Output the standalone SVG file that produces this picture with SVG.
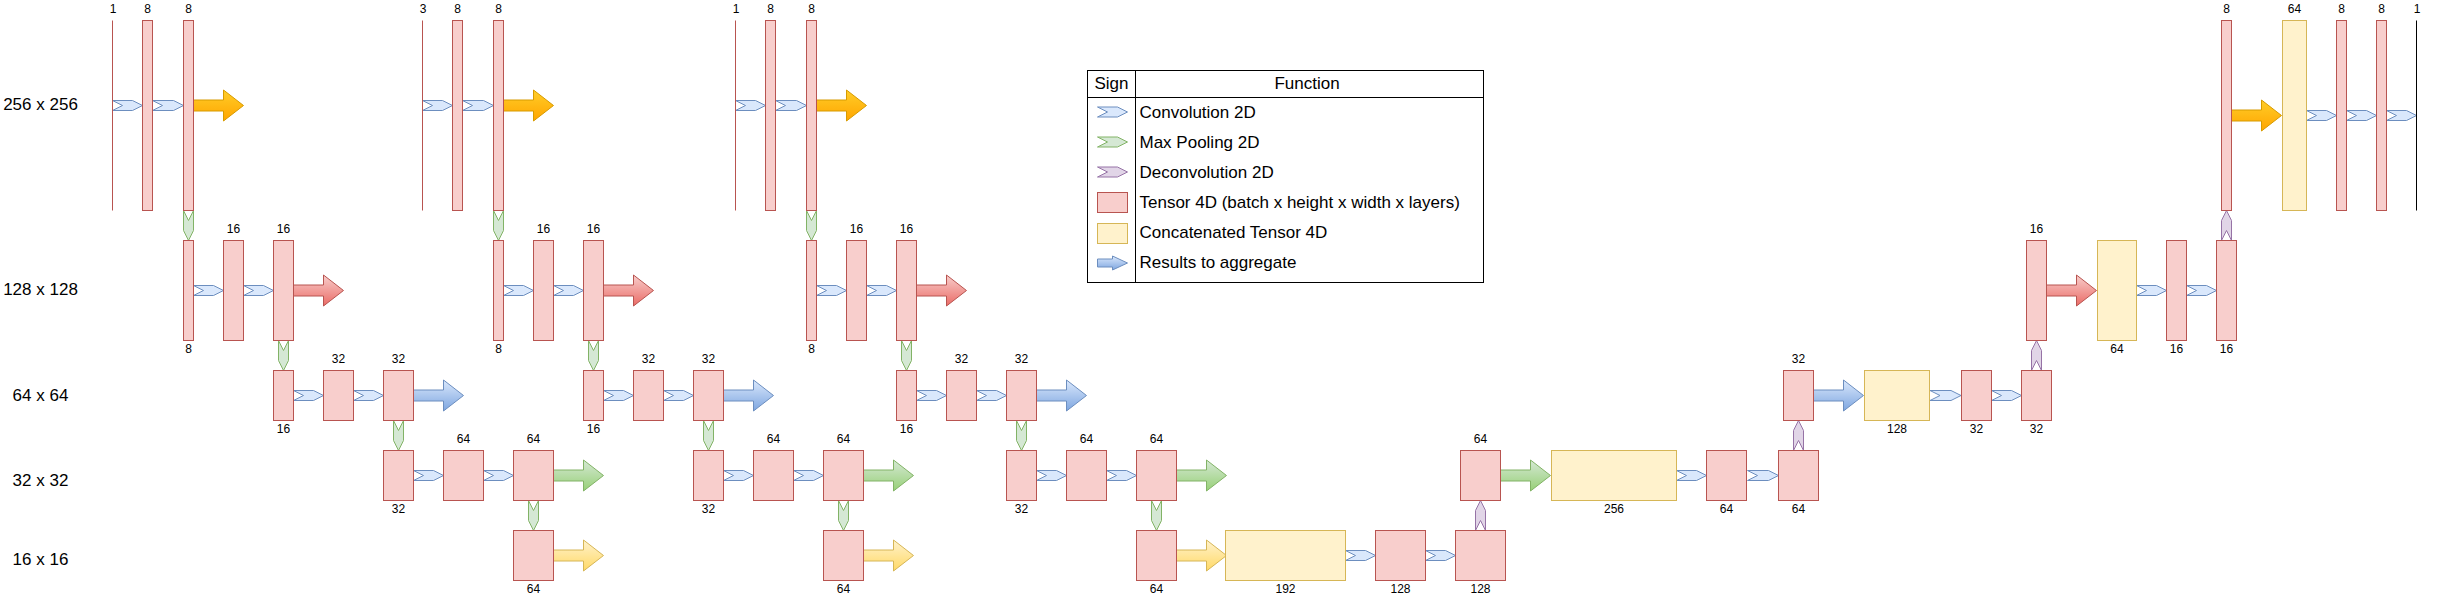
<svg xmlns="http://www.w3.org/2000/svg" xmlns:xlink="http://www.w3.org/1999/xlink" width="2437" height="602" viewBox="0 0 2437 602">
<style>
text{font-family:"Liberation Sans",Arial,sans-serif;fill:#000}
.n{font-size:12px;text-anchor:middle}
.row{font-size:17px;text-anchor:middle}
.lg{font-size:17px}
.t{fill:#f8cecc;stroke:#b85450;stroke-width:1}
.c{fill:#fff2cc;stroke:#d6b656;stroke-width:1}
.in{stroke:#b85450;stroke-width:1}
.out{stroke:#000;stroke-width:1}
.conv{fill:#dae8fc;stroke:#6c8ebf;stroke-width:1}
.pool{fill:#d5e8d4;stroke:#82b366;stroke-width:1}
.dec{fill:#e1d5e7;stroke:#9673a6;stroke-width:1}
.ao{fill:url(#gO);stroke:#d79b00;stroke-width:1}
.ar{fill:url(#gR);stroke:#b85450;stroke-width:1}
.ab{fill:url(#gB);stroke:#6c8ebf;stroke-width:1}
.ag{fill:url(#gG);stroke:#82b366;stroke-width:1}
.ay{fill:url(#gY);stroke:#d6b656;stroke-width:1}
.frame{fill:#fff;stroke:#000;stroke-width:1}
</style>
<defs>
<linearGradient id="gO" x1="0" y1="0" x2="0" y2="1"><stop offset="0" stop-color="#ffcd28"/><stop offset="1" stop-color="#ffa500"/></linearGradient>
<linearGradient id="gR" x1="0" y1="0" x2="0" y2="1"><stop offset="0" stop-color="#f8cecc"/><stop offset="1" stop-color="#ea6b66"/></linearGradient>
<linearGradient id="gB" x1="0" y1="0" x2="0" y2="1"><stop offset="0" stop-color="#dae8fc"/><stop offset="1" stop-color="#7ea6e0"/></linearGradient>
<linearGradient id="gG" x1="0" y1="0" x2="0" y2="1"><stop offset="0" stop-color="#d5e8d4"/><stop offset="1" stop-color="#97d077"/></linearGradient>
<linearGradient id="gY" x1="0" y1="0" x2="0" y2="1"><stop offset="0" stop-color="#fff2cc"/><stop offset="1" stop-color="#ffd966"/></linearGradient>
<path id="cv" d="M0,-5 H20 L30,0 L20,5 H0 L10,0 Z"/>
<path id="cv2" d="M0,-5 H21 L31,0 L21,5 H0 L10,0 Z"/>
<path id="pl" d="M-5,0 L0,10 L5,0 V20 L0,30 L-5,20 Z"/>
<path id="dc" d="M-5,0 V-20 L0,-30 L5,-20 V0 L0,-10 Z"/>
<path id="big" d="M0,-5.5 H30 V-15.5 L50,0 L30,15.5 V5.5 H0 Z"/>
<path id="sm" d="M0,-4 H15 V-7 L30,0 L15,7 V4 H0 Z"/>
</defs>
<rect x="0" y="0" width="2437" height="602" fill="#fff"/>

<g id="row-labels">
<text class="row" x="40.5" y="110">256 x 256</text>
<text class="row" x="40.5" y="295">128 x 128</text>
<text class="row" x="40.5" y="401">64 x 64</text>
<text class="row" x="40.5" y="486">32 x 32</text>
<text class="row" x="40.5" y="565">16 x 16</text>
</g>

<g id="connectors">
<g id="conn-b1" transform="translate(0,0)">
<use href="#cv" class="conv" x="112.5" y="105.5"/><use href="#cv2" class="conv" x="152.5" y="105.5"/>
<use href="#big" class="ao" x="193.5" y="105.5"/>
<use href="#pl" class="pool" x="188.5" y="210.5"/>
<use href="#cv" class="conv" x="193.5" y="290.5"/><use href="#cv" class="conv" x="243.5" y="290.5"/>
<use href="#big" class="ar" x="293.5" y="290.5"/>
<use href="#pl" class="pool" x="283.5" y="340.5"/>
<use href="#cv" class="conv" x="293.5" y="395.5"/><use href="#cv" class="conv" x="353.5" y="395.5"/>
<use href="#big" class="ab" x="413.5" y="395.5"/>
<use href="#pl" class="pool" x="398.5" y="420.5"/>
<use href="#cv" class="conv" x="413.5" y="475.5"/><use href="#cv" class="conv" x="483.5" y="475.5"/>
<use href="#big" class="ag" x="553.5" y="475.5"/>
<use href="#pl" class="pool" x="533.5" y="500.5"/>
<use href="#big" class="ay" x="553.5" y="555.5"/>
</g>
<g id="conn-b2" transform="translate(310,0)">
<use href="#cv" class="conv" x="112.5" y="105.5"/><use href="#cv2" class="conv" x="152.5" y="105.5"/>
<use href="#big" class="ao" x="193.5" y="105.5"/>
<use href="#pl" class="pool" x="188.5" y="210.5"/>
<use href="#cv" class="conv" x="193.5" y="290.5"/><use href="#cv" class="conv" x="243.5" y="290.5"/>
<use href="#big" class="ar" x="293.5" y="290.5"/>
<use href="#pl" class="pool" x="283.5" y="340.5"/>
<use href="#cv" class="conv" x="293.5" y="395.5"/><use href="#cv" class="conv" x="353.5" y="395.5"/>
<use href="#big" class="ab" x="413.5" y="395.5"/>
<use href="#pl" class="pool" x="398.5" y="420.5"/>
<use href="#cv" class="conv" x="413.5" y="475.5"/><use href="#cv" class="conv" x="483.5" y="475.5"/>
<use href="#big" class="ag" x="553.5" y="475.5"/>
<use href="#pl" class="pool" x="533.5" y="500.5"/>
<use href="#big" class="ay" x="553.5" y="555.5"/>
</g>
<g id="conn-b3" transform="translate(623,0)">
<use href="#cv" class="conv" x="112.5" y="105.5"/><use href="#cv2" class="conv" x="152.5" y="105.5"/>
<use href="#big" class="ao" x="193.5" y="105.5"/>
<use href="#pl" class="pool" x="188.5" y="210.5"/>
<use href="#cv" class="conv" x="193.5" y="290.5"/><use href="#cv" class="conv" x="243.5" y="290.5"/>
<use href="#big" class="ar" x="293.5" y="290.5"/>
<use href="#pl" class="pool" x="283.5" y="340.5"/>
<use href="#cv" class="conv" x="293.5" y="395.5"/><use href="#cv" class="conv" x="353.5" y="395.5"/>
<use href="#big" class="ab" x="413.5" y="395.5"/>
<use href="#pl" class="pool" x="398.5" y="420.5"/>
<use href="#cv" class="conv" x="413.5" y="475.5"/><use href="#cv" class="conv" x="483.5" y="475.5"/>
<use href="#big" class="ag" x="553.5" y="475.5"/>
<use href="#pl" class="pool" x="533.5" y="500.5"/>
<use href="#big" class="ay" x="553.5" y="555.5"/>
</g>
<g id="conn-decoder">
<use href="#cv" class="conv" x="1345.5" y="555.5"/><use href="#cv" class="conv" x="1425.5" y="555.5"/>
<use href="#dc" class="dec" x="1480.5" y="530.5"/>
<use href="#big" class="ag" x="1500.5" y="475.5"/>
<use href="#cv" class="conv" x="1676.5" y="475.5"/><use href="#cv2" class="conv" x="1747.5" y="475.5"/>
<use href="#dc" class="dec" x="1798.5" y="450.5"/>
<use href="#big" class="ab" x="1813.5" y="395.5"/>
<use href="#cv2" class="conv" x="1930" y="395.5"/><use href="#cv" class="conv" x="1991.5" y="395.5"/>
<use href="#dc" class="dec" x="2036.5" y="370.5"/>
<use href="#big" class="ar" x="2046.5" y="290.5"/>
<use href="#cv" class="conv" x="2136.5" y="290.5"/><use href="#cv" class="conv" x="2186.5" y="290.5"/>
<use href="#dc" class="dec" x="2226.5" y="240.5"/>
<use href="#big" class="ao" x="2231.5" y="115.5"/>
<use href="#cv" class="conv" x="2306.5" y="115.5"/><use href="#cv" class="conv" x="2346.5" y="115.5"/><use href="#cv" class="conv" x="2386.5" y="115.5"/>
</g>
</g>

<g id="nodes-b1" transform="translate(0,0)">
<g id="b1-input"><line class="in" x1="112.5" y1="20.5" x2="112.5" y2="210.5"/><text class="n" x="113" y="13">1</text></g>
<g id="b1-c1"><rect class="t" x="142.5" y="20.5" width="10" height="190"/><text class="n" x="147.5" y="13">8</text></g>
<g id="b1-c2"><rect class="t" x="183.5" y="20.5" width="10" height="190"/><text class="n" x="188.5" y="13">8</text></g>
<g id="b1-p1"><rect class="t" x="183.5" y="240.5" width="10" height="100"/><text class="n" x="188.5" y="353">8</text></g>
<g id="b1-c3"><rect class="t" x="223.5" y="240.5" width="20" height="100"/><text class="n" x="233.5" y="233">16</text></g>
<g id="b1-c4"><rect class="t" x="273.5" y="240.5" width="20" height="100"/><text class="n" x="283.5" y="233">16</text></g>
<g id="b1-p2"><rect class="t" x="273.5" y="370.5" width="20" height="50"/><text class="n" x="283.5" y="433">16</text></g>
<g id="b1-c5"><rect class="t" x="323.5" y="370.5" width="30" height="50"/><text class="n" x="338.5" y="363">32</text></g>
<g id="b1-c6"><rect class="t" x="383.5" y="370.5" width="30" height="50"/><text class="n" x="398.5" y="363">32</text></g>
<g id="b1-p3"><rect class="t" x="383.5" y="450.5" width="30" height="50"/><text class="n" x="398.5" y="513">32</text></g>
<g id="b1-c7"><rect class="t" x="443.5" y="450.5" width="40" height="50"/><text class="n" x="463.5" y="443">64</text></g>
<g id="b1-c8"><rect class="t" x="513.5" y="450.5" width="40" height="50"/><text class="n" x="533.5" y="443">64</text></g>
<g id="b1-p4"><rect class="t" x="513.5" y="530.5" width="40" height="50"/><text class="n" x="533.5" y="593">64</text></g>
</g>

<g id="nodes-b2" transform="translate(310,0)">
<g id="b2-input"><line class="in" x1="112.5" y1="20.5" x2="112.5" y2="210.5"/><text class="n" x="113" y="13">3</text></g>
<g id="b2-c1"><rect class="t" x="142.5" y="20.5" width="10" height="190"/><text class="n" x="147.5" y="13">8</text></g>
<g id="b2-c2"><rect class="t" x="183.5" y="20.5" width="10" height="190"/><text class="n" x="188.5" y="13">8</text></g>
<g id="b2-p1"><rect class="t" x="183.5" y="240.5" width="10" height="100"/><text class="n" x="188.5" y="353">8</text></g>
<g id="b2-c3"><rect class="t" x="223.5" y="240.5" width="20" height="100"/><text class="n" x="233.5" y="233">16</text></g>
<g id="b2-c4"><rect class="t" x="273.5" y="240.5" width="20" height="100"/><text class="n" x="283.5" y="233">16</text></g>
<g id="b2-p2"><rect class="t" x="273.5" y="370.5" width="20" height="50"/><text class="n" x="283.5" y="433">16</text></g>
<g id="b2-c5"><rect class="t" x="323.5" y="370.5" width="30" height="50"/><text class="n" x="338.5" y="363">32</text></g>
<g id="b2-c6"><rect class="t" x="383.5" y="370.5" width="30" height="50"/><text class="n" x="398.5" y="363">32</text></g>
<g id="b2-p3"><rect class="t" x="383.5" y="450.5" width="30" height="50"/><text class="n" x="398.5" y="513">32</text></g>
<g id="b2-c7"><rect class="t" x="443.5" y="450.5" width="40" height="50"/><text class="n" x="463.5" y="443">64</text></g>
<g id="b2-c8"><rect class="t" x="513.5" y="450.5" width="40" height="50"/><text class="n" x="533.5" y="443">64</text></g>
<g id="b2-p4"><rect class="t" x="513.5" y="530.5" width="40" height="50"/><text class="n" x="533.5" y="593">64</text></g>
</g>

<g id="nodes-b3" transform="translate(623,0)">
<g id="b3-input"><line class="in" x1="112.5" y1="20.5" x2="112.5" y2="210.5"/><text class="n" x="113" y="13">1</text></g>
<g id="b3-c1"><rect class="t" x="142.5" y="20.5" width="10" height="190"/><text class="n" x="147.5" y="13">8</text></g>
<g id="b3-c2"><rect class="t" x="183.5" y="20.5" width="10" height="190"/><text class="n" x="188.5" y="13">8</text></g>
<g id="b3-p1"><rect class="t" x="183.5" y="240.5" width="10" height="100"/><text class="n" x="188.5" y="353">8</text></g>
<g id="b3-c3"><rect class="t" x="223.5" y="240.5" width="20" height="100"/><text class="n" x="233.5" y="233">16</text></g>
<g id="b3-c4"><rect class="t" x="273.5" y="240.5" width="20" height="100"/><text class="n" x="283.5" y="233">16</text></g>
<g id="b3-p2"><rect class="t" x="273.5" y="370.5" width="20" height="50"/><text class="n" x="283.5" y="433">16</text></g>
<g id="b3-c5"><rect class="t" x="323.5" y="370.5" width="30" height="50"/><text class="n" x="338.5" y="363">32</text></g>
<g id="b3-c6"><rect class="t" x="383.5" y="370.5" width="30" height="50"/><text class="n" x="398.5" y="363">32</text></g>
<g id="b3-p3"><rect class="t" x="383.5" y="450.5" width="30" height="50"/><text class="n" x="398.5" y="513">32</text></g>
<g id="b3-c7"><rect class="t" x="443.5" y="450.5" width="40" height="50"/><text class="n" x="463.5" y="443">64</text></g>
<g id="b3-c8"><rect class="t" x="513.5" y="450.5" width="40" height="50"/><text class="n" x="533.5" y="443">64</text></g>
<g id="b3-p4"><rect class="t" x="513.5" y="530.5" width="40" height="50"/><text class="n" x="533.5" y="593">64</text></g>
</g>

<g id="nodes-decoder">
<g id="d-cat192"><rect class="c" x="1225.5" y="530.5" width="120" height="50"/><text class="n" x="1285.5" y="593">192</text></g>
<g id="d-128a"><rect class="t" x="1375.5" y="530.5" width="50" height="50"/><text class="n" x="1400.5" y="593">128</text></g>
<g id="d-128b"><rect class="t" x="1455.5" y="530.5" width="50" height="50"/><text class="n" x="1480.5" y="593">128</text></g>
<g id="d-up64"><rect class="t" x="1460.5" y="450.5" width="40" height="50"/><text class="n" x="1480.5" y="443">64</text></g>
<g id="d-cat256"><rect class="c" x="1551.5" y="450.5" width="125" height="50"/><text class="n" x="1614" y="513">256</text></g>
<g id="d-64a"><rect class="t" x="1706.5" y="450.5" width="40" height="50"/><text class="n" x="1726.5" y="513">64</text></g>
<g id="d-64b"><rect class="t" x="1778.5" y="450.5" width="40" height="50"/><text class="n" x="1798.5" y="513">64</text></g>
<g id="d-up32"><rect class="t" x="1783.5" y="370.5" width="30" height="50"/><text class="n" x="1798.5" y="363">32</text></g>
<g id="d-cat128"><rect class="c" x="1864.5" y="370.5" width="65" height="50"/><text class="n" x="1897" y="433">128</text></g>
<g id="d-32a"><rect class="t" x="1961.5" y="370.5" width="30" height="50"/><text class="n" x="1976.5" y="433">32</text></g>
<g id="d-32b"><rect class="t" x="2021.5" y="370.5" width="30" height="50"/><text class="n" x="2036.5" y="433">32</text></g>
<g id="d-up16"><rect class="t" x="2026.5" y="240.5" width="20" height="100"/><text class="n" x="2036.5" y="233">16</text></g>
<g id="d-cat64a"><rect class="c" x="2097.5" y="240.5" width="39" height="100"/><text class="n" x="2117" y="353">64</text></g>
<g id="d-16a"><rect class="t" x="2166.5" y="240.5" width="20" height="100"/><text class="n" x="2176.5" y="353">16</text></g>
<g id="d-16b"><rect class="t" x="2216.5" y="240.5" width="20" height="100"/><text class="n" x="2226.5" y="353">16</text></g>
<g id="d-up8"><rect class="t" x="2221.5" y="20.5" width="10" height="190"/><text class="n" x="2226.5" y="13">8</text></g>
<g id="d-cat64b"><rect class="c" x="2282.5" y="20.5" width="24" height="190"/><text class="n" x="2294.5" y="13">64</text></g>
<g id="d-8a"><rect class="t" x="2336.5" y="20.5" width="10" height="190"/><text class="n" x="2341.5" y="13">8</text></g>
<g id="d-8b"><rect class="t" x="2376.5" y="20.5" width="10" height="190"/><text class="n" x="2381.5" y="13">8</text></g>
<g id="d-output"><line class="out" x1="2416.5" y1="20.5" x2="2416.5" y2="210.5"/><text class="n" x="2417" y="13">1</text></g>
</g>

<g id="legend">
<rect class="frame" x="1087.5" y="70.5" width="396" height="212"/>
<line x1="1087.5" y1="97.5" x2="1483.5" y2="97.5" stroke="#000"/>
<line x1="1135.5" y1="70.5" x2="1135.5" y2="282.5" stroke="#000"/>
<text class="lg" x="1111.5" y="88.5" text-anchor="middle">Sign</text>
<text class="lg" x="1307" y="88.5" text-anchor="middle">Function</text>
<use href="#cv" class="conv" x="1097.5" y="112"/>
<text class="lg" x="1139.5" y="117.5">Convolution 2D</text>
<use href="#cv" class="pool" x="1097.5" y="142"/>
<text class="lg" x="1139.5" y="147.5">Max Pooling 2D</text>
<use href="#cv" class="dec" x="1097.5" y="172"/>
<text class="lg" x="1139.5" y="177.5">Deconvolution 2D</text>
<rect class="t" x="1097.5" y="192.5" width="30" height="20"/>
<text class="lg" x="1139.5" y="207.5">Tensor 4D (batch x height x width x layers)</text>
<rect class="c" x="1097.5" y="223.5" width="30" height="20"/>
<text class="lg" x="1139.5" y="237.5">Concatenated Tensor 4D</text>
<use href="#sm" class="ab" x="1097.5" y="263"/>
<text class="lg" x="1139.5" y="267.5">Results to aggregate</text>
</g>
</svg>
